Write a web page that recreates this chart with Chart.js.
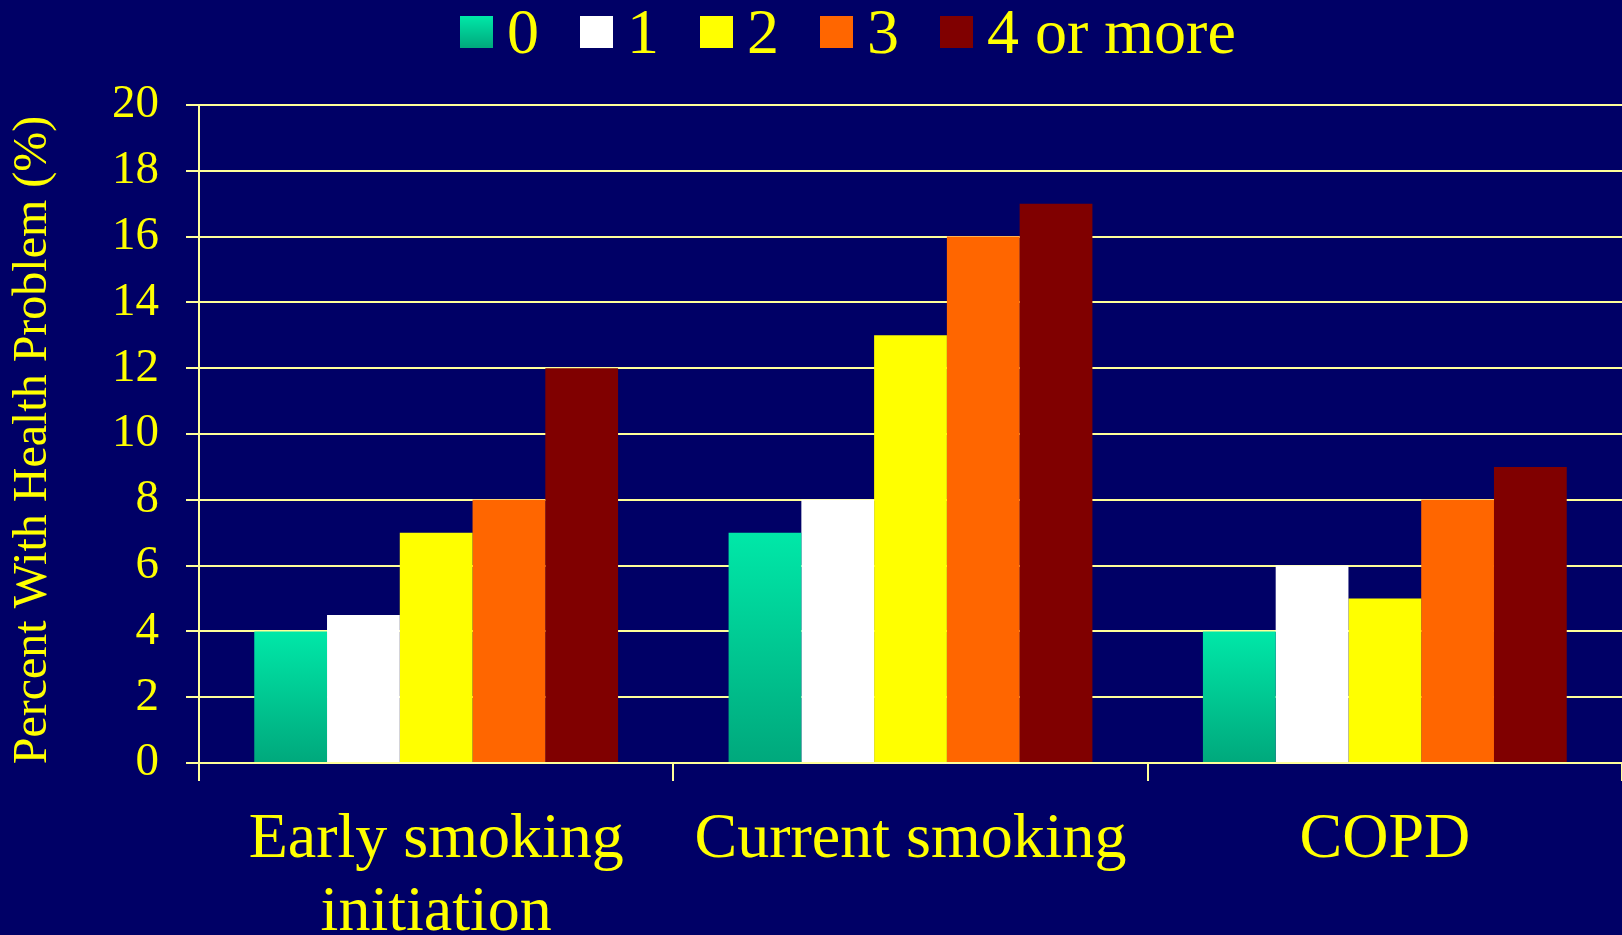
<!DOCTYPE html>
<html>
<head>
<meta charset="utf-8">
<title>Percent With Health Problem</title>
<script src="https://cdn.jsdelivr.net/npm/chart.js@4"></script>
<style>
  html, body { margin: 0; padding: 0; background: #000066; }
  #wrap { width: 1622px; height: 935px; }
</style>
</head>
<body>
<div id="wrap"><canvas id="chart" width="1622" height="935"></canvas></div>
<script>
// Outcome categories along the x axis
const categories = [["Early smoking", "initiation"], "Current smoking", "COPD"];

// Series: number of adverse childhood experiences
const seriesLabels = ["0", "1", "2", "3", "4 or more"];
const aces0 = [4, 7, 4];
const aces1 = [4.5, 8, 6];
const aces2 = [7, 13, 5];
const aces3 = [8, 16, 8];
const aces4plus = [12, 17, 9];

// Y axis
const yTicks = [0, 2, 4, 6, 8, 10, 12, 14, 16, 18, 20];
const yTitle = "Percent With Health Problem (%)";

const BG = "#000066";
const TEXT = "#FFFF00";
const GRID = "#FFFF99";
const FONT = "'Liberation Serif', 'Times New Roman', serif";

// Teal bars fade from bright at the top to darker at the base
function tealFill(ctx) {
  const chart = ctx.chart;
  const y = chart.scales && chart.scales.y;
  if (!chart.chartArea || !y || ctx.raw === undefined) return "#00CC94";
  const top = y.getPixelForValue(ctx.raw);
  const base = y.getPixelForValue(0);
  const g = chart.ctx.createLinearGradient(0, top, 0, base);
  g.addColorStop(0, "#00E8A8");
  g.addColorStop(1, "#00A87C");
  return g;
}

const palette = [tealFill, "#FFFFFF", "#FFFF00", "#FF6600", "#800000"];
const seriesData = [aces0, aces1, aces2, aces3, aces4plus];

// Background fill
const backgroundPlugin = {
  id: "bg",
  beforeDraw(chart) {
    const c = chart.ctx;
    c.save();
    c.fillStyle = BG;
    c.fillRect(0, 0, chart.width, chart.height);
    c.restore();
  }
};

// Rotated y axis title, centred a little below the plot's mid-height
const yTitlePlugin = {
  id: "yTitle",
  afterDraw(chart) {
    const c = chart.ctx;
    c.save();
    c.translate(33, 440);
    c.rotate(-Math.PI / 2);
    c.font = "48px " + FONT;
    c.fillStyle = TEXT;
    c.textAlign = "center";
    c.textBaseline = "middle";
    c.fillText(yTitle, 0, 0);
    c.restore();
  }
};

// Legend row across the top: square swatch followed by its label
const legendPlugin = {
  id: "topLegend",
  afterDraw(chart) {
    const c = chart.ctx;
    c.save();
    c.font = "64px " + FONT;
    c.textBaseline = "alphabetic";
    c.textAlign = "left";
    let x = 460;
    const boxY = 16, box = 33, boxH = 32;
    chart.data.datasets.forEach((ds, i) => {
      if (i === 0) {
        const g = c.createLinearGradient(0, boxY, 0, boxY + boxH);
        g.addColorStop(0, "#00E8A8");
        g.addColorStop(1, "#00A87C");
        c.fillStyle = g;
      } else {
        c.fillStyle = ds.backgroundColor;
      }
      c.fillRect(x, boxY, box, boxH);
      x += box + 14;
      c.fillStyle = TEXT;
      c.fillText(ds.label, x, 53);
      x += c.measureText(ds.label).width + 41;
    });
    c.restore();
  }
};

const datasets = seriesLabels.map((label, i) => ({
  label: label,
  data: seriesData[i],
  backgroundColor: palette[i],
  borderWidth: 0,
  categoryPercentage: 0.767,
  barPercentage: 1.0
}));

new Chart(document.getElementById("chart"), {
  type: "bar",
  data: { labels: categories, datasets: datasets },
  plugins: [backgroundPlugin, yTitlePlugin, legendPlugin],
  options: {
    responsive: false,
    devicePixelRatio: 1,
    animation: false,
    layout: { padding: { top: 105, right: 0, bottom: 0, left: 0 } },
    plugins: {
      legend: { display: false },
      tooltip: { enabled: false }
    },
    scales: {
      x: {
        grid: {
          display: true,
          drawOnChartArea: false,
          drawTicks: true,
          tickLength: 18,
          color: GRID,
          lineWidth: 2,
          offset: true
        },
        border: { display: true, color: GRID, width: 2 },
        ticks: {
          color: TEXT,
          font: { family: FONT, size: 64, lineHeight: 1.14 },
          padding: 23,
          maxRotation: 0,
          autoSkip: false
        },
        afterFit(scale) { scale.height = 172; }
      },
      y: {
        min: 0,
        max: 20,
        afterBuildTicks(scale) { scale.ticks = yTicks.map(v => ({ value: v })); },
        grid: {
          color: GRID,
          lineWidth: 2,
          drawTicks: true,
          tickLength: 13
        },
        border: { display: true, color: GRID, width: 2 },
        ticks: {
          color: TEXT,
          font: { family: FONT, size: 47 },
          padding: 27
        },
        afterFit(scale) { scale.width = 199; }
      }
    }
  }
});
</script>
</body>
</html>
